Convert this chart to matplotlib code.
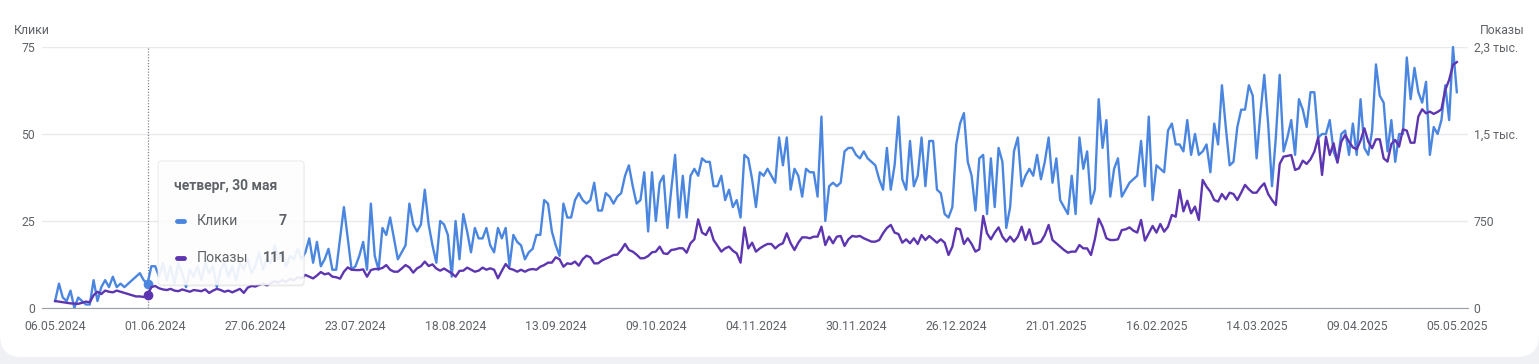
import matplotlib
matplotlib.use("Agg")
import matplotlib.pyplot as plt
import pandas as pd
from matplotlib.patches import FancyBboxPatch
from matplotlib.lines import Line2D

plt.rcParams['font.family'] = ['Roboto', 'DejaVu Sans']

# daily values, 06.05.2024 .. 05.05.2025
start = "2024-05-06"

clicks = [
    2, 7, 3, 2, 5, 0, 3, 2, 1, 1, 8, 2, 6, 8, 6, 9, 6, 7, 6, 7, 8, 9, 10, 8, 7, 12,
    12, 9, 13, 8, 12, 7, 13, 10, 6, 11, 9, 12, 8, 13, 10, 12, 6, 11, 13, 9, 12, 8, 13, 11,
    14, 10, 12, 16, 11, 14, 13, 18, 14, 16, 12, 15, 14, 17, 14, 16, 20, 13, 19, 12, 14,
    17, 11, 11, 20, 29, 20, 11, 12, 15, 19, 11, 30, 15, 11, 23, 21, 26, 20, 14, 16,
    18, 30, 24, 22, 24, 34, 24, 18, 13, 25, 24, 21, 9, 25, 14, 27, 22, 16, 23, 20,
    20, 23, 18, 16, 23, 20, 23, 12, 21, 19, 18, 14, 16, 17, 21, 21, 31, 30, 22, 18,
    15, 30, 26, 26, 31, 33, 31, 30, 31, 36, 28, 28, 33, 32, 30, 32,
    33, 38, 41, 35, 30, 31, 39, 22, 39, 25, 36, 38, 23, 34, 44, 26, 38, 26, 38, 40,
    38, 43, 42, 42, 35, 35, 38, 31, 34, 29, 31, 26, 44, 43, 37, 29, 39, 38, 40, 38,
    36, 49, 41, 49, 34, 40, 38, 32, 40, 39, 39, 32, 55, 25, 35, 36, 35, 36, 45, 46,
    46, 44, 43, 45, 43, 42, 41, 37, 34, 46, 34, 41, 55, 37,
    34, 48, 35, 38, 49, 35, 48, 48, 34, 33, 27, 26, 29, 47, 53, 56, 42, 38, 28, 43,
    44, 27, 43, 29, 46, 42, 23, 29, 45, 49, 35, 38, 40, 38, 44, 37, 42, 49, 36, 43,
    31, 29, 27, 38, 27, 49, 40, 45, 30, 34, 60, 46, 54, 32, 40, 43, 32, 34, 36, 37,
    38, 48, 35, 55, 31, 41, 40, 39, 51, 53, 47, 47, 45, 54,
    44, 50, 44, 45, 47, 39, 53, 47, 64, 52, 41, 42, 52, 57, 57, 64, 61, 43, 56, 67,
    53, 35, 49, 67, 45, 49, 54, 44, 60, 57, 52, 62, 62, 49, 50, 50, 54, 45, 42, 50,
    51, 44, 53, 44, 60, 46, 44, 51, 70, 61, 59, 45, 54, 42, 50, 50, 72, 60, 69, 62,
    59, 65, 44, 52, 50, 54, 64, 54, 75, 62,
]

impressions = [
    60, 55, 50, 45, 40, 38, 36, 45, 55, 50, 110, 140, 120, 150, 140, 135, 150, 140, 130, 120,
    110, 100, 100, 95, 111, 180,
    190, 170, 160, 155, 165, 150, 145, 160, 150, 140, 155, 150, 145, 160, 130, 150, 165, 155,
    140, 150, 135, 150, 165, 130, 175, 190, 185, 200, 210, 195, 215, 230, 220, 240, 225, 250,
    240, 265, 255, 285, 270, 255, 280, 310, 290,
    299, 270, 265, 253, 313, 350, 330, 327, 327, 333, 270, 327, 336, 336, 345, 370, 330, 313,
    313, 340, 370, 350, 305, 342, 360, 400, 362, 376, 340, 322, 340, 320, 299, 270, 320, 322,
    348, 330, 313, 322, 348, 330, 342, 330, 256, 320, 379, 340, 330, 313, 330, 313, 330, 336,
    330, 356, 370, 391, 391, 437, 420, 356, 385, 379, 400, 365, 420, 451, 437, 385, 385, 410,
    425, 440, 457, 460,
    500, 552, 500, 486, 460, 428, 430, 448, 480, 486, 529, 471, 466, 500, 505, 515, 515, 477,
    558, 592, 764, 650, 629, 695, 586, 537, 486, 514, 529, 494, 471, 391, 695, 514, 563, 486,
    514, 535, 552, 552, 514, 543, 558, 644, 558, 500, 563, 609, 609, 601, 615, 615, 701, 543,
    615, 558, 615, 621, 535, 592, 621, 615, 621, 601, 586, 572, 572, 586, 644, 690, 716, 650,
    638, 563,
    592, 558, 601, 552, 629, 586, 621, 592, 563, 592, 563, 457, 529, 687, 678, 552, 601, 552,
    486, 506, 793, 644, 592, 650, 695, 615, 572, 615, 572, 615, 701, 586, 678, 552, 558, 572,
    629, 716, 586, 558, 529, 500, 477, 486, 486, 543, 514, 514, 457, 592, 770, 701, 601, 586,
    586, 592, 672, 678, 695, 667, 650, 759, 581, 644, 707, 650, 724, 658, 701, 802, 787, 1017,
    833, 925,
    816, 874, 759, 1104, 1046, 1003, 931, 917, 983, 937, 994, 983, 931, 994, 1061, 1023, 994,
    994, 1040, 1075, 983, 931, 888, 1242, 1305, 1311, 1319, 1190, 1204, 1270, 1242, 1282,
    1348, 1471, 1147, 1477, 1319, 1420, 1253, 1434, 1492, 1434, 1385, 1368, 1443, 1549, 1434,
    1377, 1454, 1454, 1290, 1262, 1414, 1449, 1391, 1540, 1529, 1425, 1425, 1650, 1713, 1678,
    1693, 1673, 1690, 1713, 1880, 1966, 2095, 2120,
]

tick_labels = ["06.05.2024", "01.06.2024", "27.06.2024", "23.07.2024", "18.08.2024",
               "13.09.2024", "09.10.2024", "04.11.2024", "30.11.2024", "26.12.2024",
               "21.01.2025", "16.02.2025", "14.03.2025", "09.04.2025", "05.05.2025"]
left_ticks = [0, 25, 50, 75]
right_ticks = [0, 750, 1500, 2250]
right_tick_labels = ["0", "750", "1,5 тыс.", "2,3 тыс."]

# tooltip
tip_date = "2024-05-30"
tip_title = "четверг, 30 мая"
tip_clicks = 7
tip_impr = 111

BLUE = '#4a86e0'
PURPLE = '#5e35b1'
GREY = '#5f6368'

dates = pd.date_range(start, periods=len(clicks), freq="D")
tick_dates = pd.to_datetime(tick_labels, format="%d.%m.%Y")
tip_x = pd.Timestamp(tip_date)

W, H = 1539, 364
fig = plt.figure(figsize=(W / 100, H / 100), dpi=100)
fig.patch.set_facecolor('#eff1f5')

def fx(px):
    return px / W

def fy(py):
    return 1 - py / H

# white card with rounded bottom corners
card = FancyBboxPatch((0, 0.07), W / 100, 4.0, boxstyle="round,pad=0,rounding_size=0.22",
                      transform=fig.dpi_scale_trans, facecolor='white', edgecolor='none', zorder=-5)
fig.add_artist(card)

ax = fig.add_axes([fx(42), fy(308), (1468 - 42) / W, 261 / H])
ax.set_facecolor('none')
ax2 = ax.twinx()

ax.plot(dates, clicks, color=BLUE, lw=1.7, solid_joinstyle='round', clip_on=False)
ax2.plot(dates, impressions, color=PURPLE, lw=1.7, solid_joinstyle='round', clip_on=False)

ax.axvline(tip_x, color='#80868b', lw=0.9, ls=(0, (1, 1.3)), zorder=1)
ax.plot([tip_x], [tip_clicks], 'o', ms=6, color=BLUE, zorder=5, clip_on=False)
ax2.plot([tip_x], [tip_impr], 'o', ms=6, color=PURPLE, zorder=5, clip_on=False)

ax.set_xlim(dates[0] - pd.Timedelta(days=3.4), dates[0] + pd.Timedelta(days=366.9))
ax.set_ylim(0, 75)
ax2.set_ylim(0, 2250)

ax.set_xticks(tick_dates)
ax.set_xticklabels(tick_labels)
ax.set_yticks(left_ticks)
ax2.set_yticks(right_ticks)
ax2.set_yticklabels(right_tick_labels)

ax.yaxis.grid(True, color='#e8eaed', lw=1)
ax.set_axisbelow(True)
for a in (ax, ax2):
    for s in ('top', 'left', 'right'):
        a.spines[s].set_visible(False)
ax2.spines['bottom'].set_visible(False)
ax.spines['bottom'].set_color('#9aa0a6')

ax.tick_params(axis='x', length=0, pad=9, labelsize=8.8, labelcolor=GREY)
ax.tick_params(axis='y', length=0, pad=5, labelsize=8.8, labelcolor=GREY)
ax2.tick_params(axis='y', length=0, pad=4, labelsize=8.8, labelcolor=GREY)

fig.text(fx(14), fy(31), "Клики", ha='left', va='center', fontsize=8.8, color=GREY)
fig.text(fx(1525), fy(31), "Показы", ha='right', va='center', fontsize=8.8, color=GREY)

# tooltip box
shadow = FancyBboxPatch((1.585, 0.775), 1.46, 1.24, boxstyle="round,pad=0,rounding_size=0.03",
                        transform=fig.dpi_scale_trans, facecolor='#000000', alpha=0.06,
                        edgecolor='none', zorder=9)
box = FancyBboxPatch((1.58, 0.79), 1.46, 1.24, boxstyle="round,pad=0,rounding_size=0.03",
                     transform=fig.dpi_scale_trans, facecolor='white', alpha=0.9,
                     edgecolor='#e3e3e3', lw=0.6, zorder=10)
fig.add_artist(shadow)
fig.add_artist(box)

fig.text(fx(174), fy(186), tip_title, ha='left', va='center', fontsize=10,
         fontweight='bold', color=GREY, zorder=11)
for y, name, val, col in [(221, "Клики", tip_clicks, BLUE), (258, "Показы", tip_impr, PURPLE)]:
    fig.add_artist(Line2D([fx(177), fx(184)], [fy(y), fy(y)], color=col, lw=3.5,
                          solid_capstyle='round', transform=fig.transFigure, zorder=11))
    fig.text(fx(197), fy(y), name, ha='left', va='center', fontsize=10.2, color=GREY, zorder=11)
    fig.text(fx(287), fy(y), str(val), ha='right', va='center', fontsize=10.2,
             fontweight='bold', color=GREY, zorder=11)

fig.savefig("out.png", dpi=100, facecolor=fig.get_facecolor())
